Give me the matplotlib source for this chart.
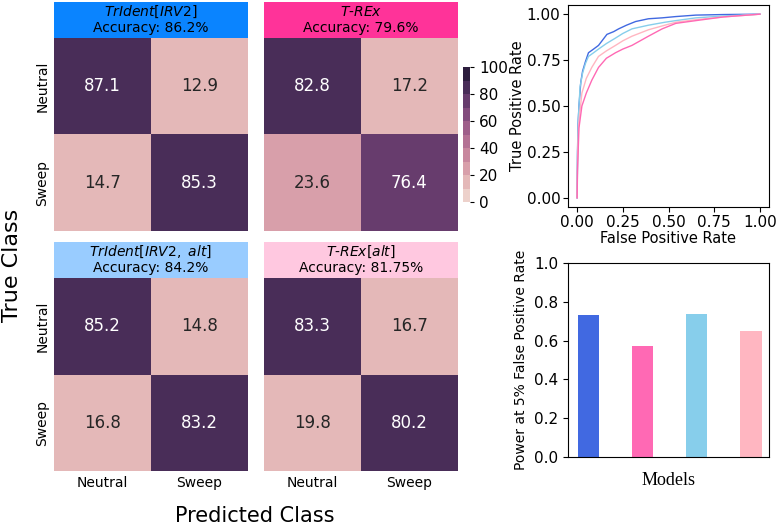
import matplotlib
matplotlib.use("Agg")
import matplotlib.pyplot as plt
import numpy as np
import seaborn as sns
from matplotlib.colors import ListedColormap
from matplotlib.patches import Rectangle

# ---------------- data ----------------
classes = ["Neutral", "Sweep"]
cm_trident = [[87.1, 12.9], [14.7, 85.3]]
cm_trex = [[82.8, 17.2], [23.6, 76.4]]
cm_trident_alt = [[85.2, 14.8], [16.8, 83.2]]
cm_trex_alt = [[83.3, 16.7], [19.8, 80.2]]
titles = [r"$\mathit{TrIdent}$[$\mathit{IRV2}$]", r"$\mathit{T}$-$\mathit{REx}$",
          r"$\mathit{TrIdent}$[$\mathit{IRV2,\ alt}$]", r"$\mathit{T}$-$\mathit{REx}$[$\mathit{alt}$]"]
accuracies = ["Accuracy: 86.2%", "Accuracy: 79.6%", "Accuracy: 84.2%", "Accuracy: 81.75%"]
box_colors = ["#0a84ff", "#ff3399", "#99ccff", "#ffc8e0"]

# ROC curves
fpr_trident = [0, 0.002, 0.005, 0.01, 0.02, 0.03, 0.045, 0.062, 0.09, 0.117, 0.14, 0.163, 0.2, 0.227, 0.27, 0.32, 0.39, 0.465, 0.54, 0.65, 0.8, 1.0]
tpr_trident = [0, 0.25, 0.4, 0.5, 0.63, 0.69, 0.74, 0.79, 0.81, 0.83, 0.86, 0.89, 0.905, 0.92, 0.94, 0.96, 0.975, 0.98, 0.987, 0.995, 0.998, 1.0]
fpr_trident_alt = [0, 0.002, 0.006, 0.016, 0.03, 0.045, 0.062, 0.09, 0.117, 0.16, 0.21, 0.25, 0.30, 0.39, 0.48, 0.54, 0.65, 0.8, 1.0]
tpr_trident_alt = [0, 0.22, 0.42, 0.605, 0.68, 0.73, 0.77, 0.79, 0.81, 0.84, 0.87, 0.895, 0.92, 0.94, 0.956, 0.965, 0.98, 0.99, 1.0]
fpr_trex_alt = [0, 0.002, 0.008, 0.026, 0.05, 0.08, 0.117, 0.16, 0.21, 0.25, 0.30, 0.39, 0.48, 0.54, 0.65, 0.8, 1.0]
tpr_trex_alt = [0, 0.2, 0.4, 0.57, 0.65, 0.71, 0.77, 0.8, 0.83, 0.855, 0.88, 0.915, 0.94, 0.956, 0.97, 0.985, 1.0]
fpr_trex = [0, 0.002, 0.01, 0.026, 0.05, 0.08, 0.117, 0.16, 0.21, 0.25, 0.30, 0.39, 0.465, 0.54, 0.65, 0.8, 1.0]
tpr_trex = [0, 0.15, 0.38, 0.50, 0.57, 0.64, 0.71, 0.76, 0.79, 0.81, 0.83, 0.88, 0.92, 0.95, 0.965, 0.985, 1.0]

# Power at 5% FPR
models = ["TrIdent[IRV2]", "T-REx", "TrIdent[IRV2, alt]", "T-REx[alt]"]
power = [0.731, 0.571, 0.736, 0.648]
model_colors = ["royalblue", "hotpink", "skyblue", "lightpink"]

# ---------------- figure ----------------
W, H = 777, 526
fig = plt.figure(figsize=(W / 100, H / 100), dpi=100)

def ax_px(x0, y0, x1, y1):
    return fig.add_axes([x0 / W, 1 - y1 / H, (x1 - x0) / W, (y1 - y0) / H])

cmap = ListedColormap(sns.cubehelix_palette(10))
mats = [cm_trident, cm_trex, cm_trident_alt, cm_trex_alt]
hm_pos = [(54, 38, 248, 231), (264, 38, 458, 231), (54, 278, 248, 471), (264, 278, 458, 471)]
box_pos = [(54, 2, 248, 38), (264, 2, 458, 38), (54, 242, 248, 278), (264, 242, 458, 278)]

cax = ax_px(463, 67, 470, 202)
for i, (m, pos, bpos) in enumerate(zip(mats, hm_pos, box_pos)):
    ax = ax_px(*pos)
    sns.heatmap(np.array(m), ax=ax, cmap=cmap, vmin=0, vmax=100, annot=True, fmt=".1f",
                annot_kws={"fontsize": 12}, cbar=(i == 1), cbar_ax=cax if i == 1 else None,
                xticklabels=classes, yticklabels=classes, square=False)
    ax.tick_params(length=0, labelsize=10)
    if i in (0, 1):
        ax.set_xticklabels([])
    if i in (1, 3):
        ax.set_yticklabels([])
    bx = ax_px(*bpos)
    bx.set_xlim(0, 1); bx.set_ylim(0, 1)
    bx.add_patch(Rectangle((0, 0), 1, 1, color=box_colors[i]))
    bx.axis("off")
    bx.text(0.5, 0.73, titles[i], ha="center", va="center", fontsize=10)
    bx.text(0.5, 0.27, accuracies[i], ha="center", va="center", fontsize=10)

cax.tick_params(labelsize=11, length=3)
cax.set_yticks([0, 20, 40, 60, 80, 100])

fig.text(12 / W, 1 - 265 / H, "True Class", rotation=90, ha="center", va="center", fontsize=16)
fig.text(255 / W, 1 - 516 / H, "Predicted Class", ha="center", va="center", fontsize=15)

# ROC
rax = ax_px(568, 5, 769, 207)
rax.plot(fpr_trident, tpr_trident, color="royalblue", lw=1.0)
rax.plot(fpr_trident_alt, tpr_trident_alt, color="skyblue", lw=1.0)
rax.plot(fpr_trex_alt, tpr_trex_alt, color="lightpink", lw=1.0)
rax.plot(fpr_trex, tpr_trex, color="hotpink", lw=1.0)
rax.set_xticks([0, 0.25, 0.5, 0.75, 1.0])
rax.set_yticks([0, 0.25, 0.5, 0.75, 1.0])
rax.tick_params(labelsize=11, pad=2)
rax.set_xlabel("False Positive Rate", fontsize=10.5, labelpad=1)
rax.set_ylabel("True Positive Rate", fontsize=10.5, labelpad=1)

# bars
bax = ax_px(568, 263, 769, 457)
xpos = np.arange(len(models))
bax.bar(xpos, power, width=0.39, color=model_colors)
bax.set_xlim(-0.37, 3.33)
bax.set_ylim(0, 1)
bax.set_xticks([])
bax.set_yticks([0, 0.2, 0.4, 0.6, 0.8, 1.0])
bax.tick_params(labelsize=11)
bax.set_xlabel("Models", fontsize=13, family="Liberation Serif", labelpad=11)
bax.set_ylabel("Power at 5% False Positive Rate", fontsize=10)

fig.savefig("out.png", dpi=100)
